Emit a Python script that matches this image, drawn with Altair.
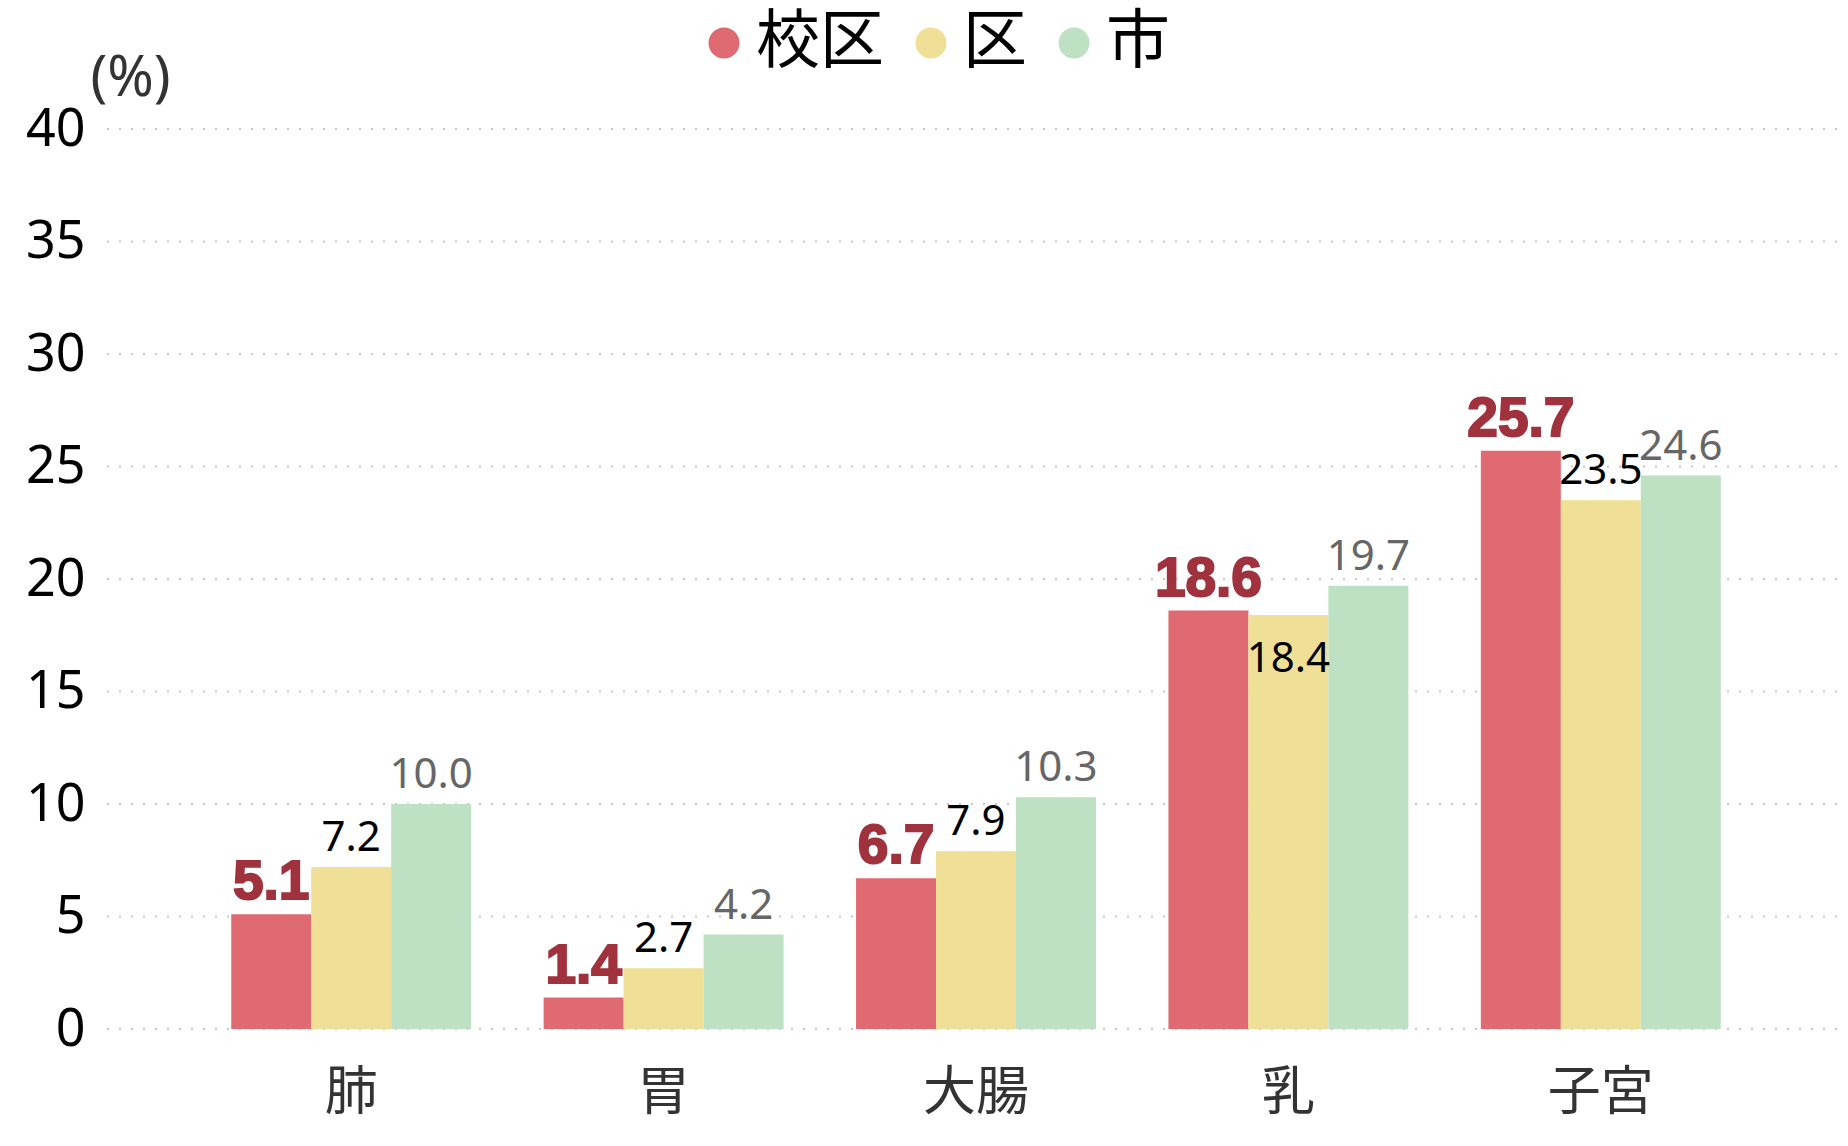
import altair as alt
import pandas as pd

categories = ["肺", "胃", "大腸", "乳", "子宮"]
series = ["校区", "区", "市"]
school = [5.1, 1.4, 6.7, 18.6, 25.7]
ward = [7.2, 2.7, 7.9, 18.4, 23.5]
city = [10.0, 4.2, 10.3, 19.7, 24.6]
colors = ["#E06A72", "#F0E097", "#BEE0C3"]
y_ticks = [0, 5, 10, 15, 20, 25, 30, 35, 40]

W, H = 1739, 900

rows = []
for vals, s in zip([school, ward, city], series):
    for c, v in zip(categories, vals):
        rows.append({"category": c, "series": s, "value": v})
df = pd.DataFrame(rows)
grid_df = pd.DataFrame({"value": y_ticks})

x_enc = alt.X("category:N", sort=categories,
              scale=alt.Scale(range=[88, 1650], paddingInner=0.232, paddingOuter=0.116),
              axis=alt.Axis(title=None, labelAngle=0, labelFontSize=53,
                            labelFont="Noto Sans CJK JP", labelColor="#333333",
                            labelPadding=38, ticks=False, domain=False, grid=False))
xo_enc = alt.XOffset("series:N", sort=series, scale=alt.Scale(paddingInner=0, paddingOuter=0))
y_scale = alt.Scale(domain=[0, 40], nice=False)
y_enc = alt.Y("value:Q", scale=y_scale,
              axis=alt.Axis(values=y_ticks, title="(%)", titleAngle=0, titleX=-17, titleY=-51,
                            titleAlign="left", titleBaseline="middle", titleFontSize=56,
                            titleFontWeight="normal", titleColor="#333333", titleFont="Noto Sans",
                            labelFontSize=52, labelFont="Noto Sans", labelColor="#000000",
                            labelPadding=22, ticks=False, domain=False, grid=False))

grid = alt.Chart(grid_df).mark_rule(color="#c8c8c8", strokeDash=[2, 10], strokeWidth=2).encode(
    y=alt.Y("value:Q", scale=y_scale),
    x=alt.value(0), x2=alt.value(W),
)

base = alt.Chart(df)

bars = base.mark_bar(opacity=1).encode(
    x=x_enc, xOffset=xo_enc, y=y_enc,
    color=alt.Color("series:N", sort=series,
                    scale=alt.Scale(domain=series, range=colors),
                    legend=alt.Legend(title=None, orient="none", direction="horizontal",
                                      legendX=585, legendY=-118, symbolType="circle",
                                      symbolSize=960, symbolStrokeWidth=0, symbolOpacity=1,
                                      labelFontSize=64, labelFont="Noto Sans CJK JP",
                                      labelColor="#000000", labelOffset=0, columnPadding=15,
                                      labelLimit=400))
)

def text_layer(filt, color, font, size, weight, dy, baseline, stroke=None):
    kw = dict(color=color, font=font, fontSize=size, fontWeight=weight, dy=dy,
              baseline=baseline, align="center")
    if stroke:
        kw.update(stroke=color, strokeWidth=stroke)
    return base.transform_filter(filt).mark_text(**kw).encode(
        x=alt.X("category:N", sort=categories),
        xOffset=alt.XOffset("series:N", sort=series),
        y=alt.Y("value:Q"),
        text=alt.Text("value:Q", format=".1f"),
    )

t_school = text_layer("datum.series == '校区'", "#A0323E", "Liberation Sans", 55, 900, -15,
                      "alphabetic", stroke=2)
t_ward = text_layer("datum.series == '区' && datum.category != '乳'", "#000000", "Noto Sans",
                    42, "normal", -16, "alphabetic")
t_ward_in = text_layer("datum.series == '区' && datum.category == '乳'", "#000000", "Noto Sans",
                       42, "normal", 57, "alphabetic")
t_city = text_layer("datum.series == '市'", "#666666", "Noto Sans", 42, "normal", -16,
                    "alphabetic")

chart = alt.layer(grid, bars, t_school, t_ward, t_ward_in, t_city).properties(
    width=W, height=H,
    background="white",
    autosize=alt.AutoSizeParams(type="none"),
    padding={"left": 107, "top": 129, "right": 2, "bottom": 117},
).configure_view(stroke=None, strokeWidth=0).configure_axis(grid=False)

chart.save("out.html", embed_options={"renderer": "svg", "actions": False})
